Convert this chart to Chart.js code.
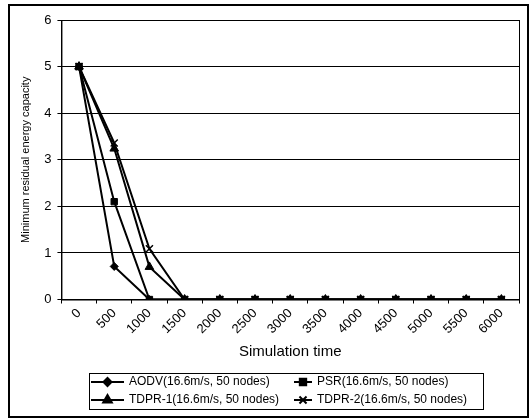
<!DOCTYPE html>
<html>
<head>
<meta charset="utf-8">
<script src="https://cdn.jsdelivr.net/npm/chart.js@4/dist/chart.umd.min.js"></script>
<style>
html,body{margin:0;padding:0;background:#fff;}
#wrap{width:530px;height:419px;position:relative;}
</style>
</head>
<body>
<div id="wrap"><canvas id="c" width="530" height="419"></canvas></div>
<script>
const categories = ['0','500','1000','1500','2000','2500','3000','3500','4000','4500','5000','5500','6000'];
const seriesNames = ['AODV(16.6m/s, 50 nodes)','PSR(16.6m/s, 50 nodes)','TDPR-1(16.6m/s, 50 nodes)','TDPR-2(16.6m/s, 50 nodes)'];
const aodv  = [5, 0.71, 0, 0, 0, 0, 0, 0, 0, 0, 0, 0, 0];
const psr   = [5, 2.1, 0, 0, 0, 0, 0, 0, 0, 0, 0, 0, 0];
const tdpr1 = [5, 3.24, 0.7, 0, 0, 0, 0, 0, 0, 0, 0, 0, 0];
const tdpr2 = [5, 3.36, 1.09, 0, 0, 0, 0, 0, 0, 0, 0, 0, 0];
const yTitle = 'Minimum residual energy capacity';
const xTitle = 'Simulation time';

const FONT = '"Liberation Sans", Arial, sans-serif';
const styles = [
  {pointStyle:'rectRot', pointRadius:4},
  {pointStyle:'rect', pointRadius:4.5},
  {pointStyle:'triangle', pointRadius:5},
  {pointStyle:'crossRot', pointRadius:5}
];
const values = [aodv, psr, tdpr1, tdpr2];

const datasets = values.map((v,i)=>({
  label: seriesNames[i],
  data: v,
  borderColor:'#000',
  backgroundColor:'#000',
  borderWidth:2,
  pointStyle: styles[i].pointStyle,
  pointRadius: styles[i].pointRadius,
  pointBorderWidth: i===3 ? 1.5 : 1,
  pointBackgroundColor:'#000',
  pointBorderColor:'#000',
  tension:0
}));

const decor = {
  id:'decor',
  afterDraw(chart){
    const ctx = chart.ctx;
    const a = chart.chartArea;
    ctx.save();
    ctx.strokeStyle = '#000';
    ctx.lineWidth = 1;
    ctx.strokeRect(a.left+0.5, a.top+0.5, a.right-a.left, a.bottom-a.top);
    ctx.lineWidth = 2;
    ctx.strokeRect(9, 5, 519, 412);
    ctx.lineWidth = 1;
    ctx.strokeRect(89.5, 373.5, 394, 36);
    const cols = [[91, 129], [294, 317]];
    const rows = [382, 400];
    ctx.font = '12px ' + FONT;
    ctx.textBaseline = 'middle';
    ctx.fillStyle = '#000';
    chart.data.datasets.forEach((ds, i) => {
      const c = cols[i % 2], y = rows[Math.floor(i / 2)];
      const x0 = c[0], x1 = c[1] - 5;
      ctx.strokeStyle = '#000';
      ctx.lineWidth = 2;
      ctx.beginPath(); ctx.moveTo(x0, y); ctx.lineTo(x1, y); ctx.stroke();
      Chart.helpers.drawPoint(ctx, {pointStyle: ds.pointStyle, radius: ds.pointRadius, borderWidth: ds.pointBorderWidth, rotation:0}, (x0 + x1) / 2, y);
      ctx.fillStyle = '#000';
      ctx.fillText(ds.label, c[1], y);
    });
    ctx.restore();
  }
};

new Chart(document.getElementById('c'), {
  type:'line',
  data:{labels:categories, datasets},
  options:{
    responsive:false,
    animation:false,
    layout:{padding:{left:19, right:11, top:20, bottom:58}},
    plugins:{legend:{display:false}, tooltip:{enabled:false}},
    scales:{
      x:{
        type:'category',
        offset:true,
        grid:{display:true, drawOnChartArea:false, offset:true, color:'#000', tickLength:4},
        border:{color:'#000', width:1},
        ticks:{color:'#000', font:{family:FONT, size:13}, minRotation:45, maxRotation:45, padding:2},
        title:{display:true, text:xTitle, color:'#000', font:{family:FONT, size:15}, padding:{top:4, bottom:0}}
      },
      y:{
        min:0, max:6,
        ticks:{stepSize:1, color:'#000', font:{family:FONT, size:13}, padding:6},
        grid:{color:'#000', lineWidth:1, tickLength:4},
        border:{color:'#000', width:1},
        title:{display:true, text:yTitle, color:'#000', font:{family:FONT, size:11}, padding:{top:0, bottom:6}}
      }
    }
  },
  plugins:[decor]
});
</script>
</body>
</html>
